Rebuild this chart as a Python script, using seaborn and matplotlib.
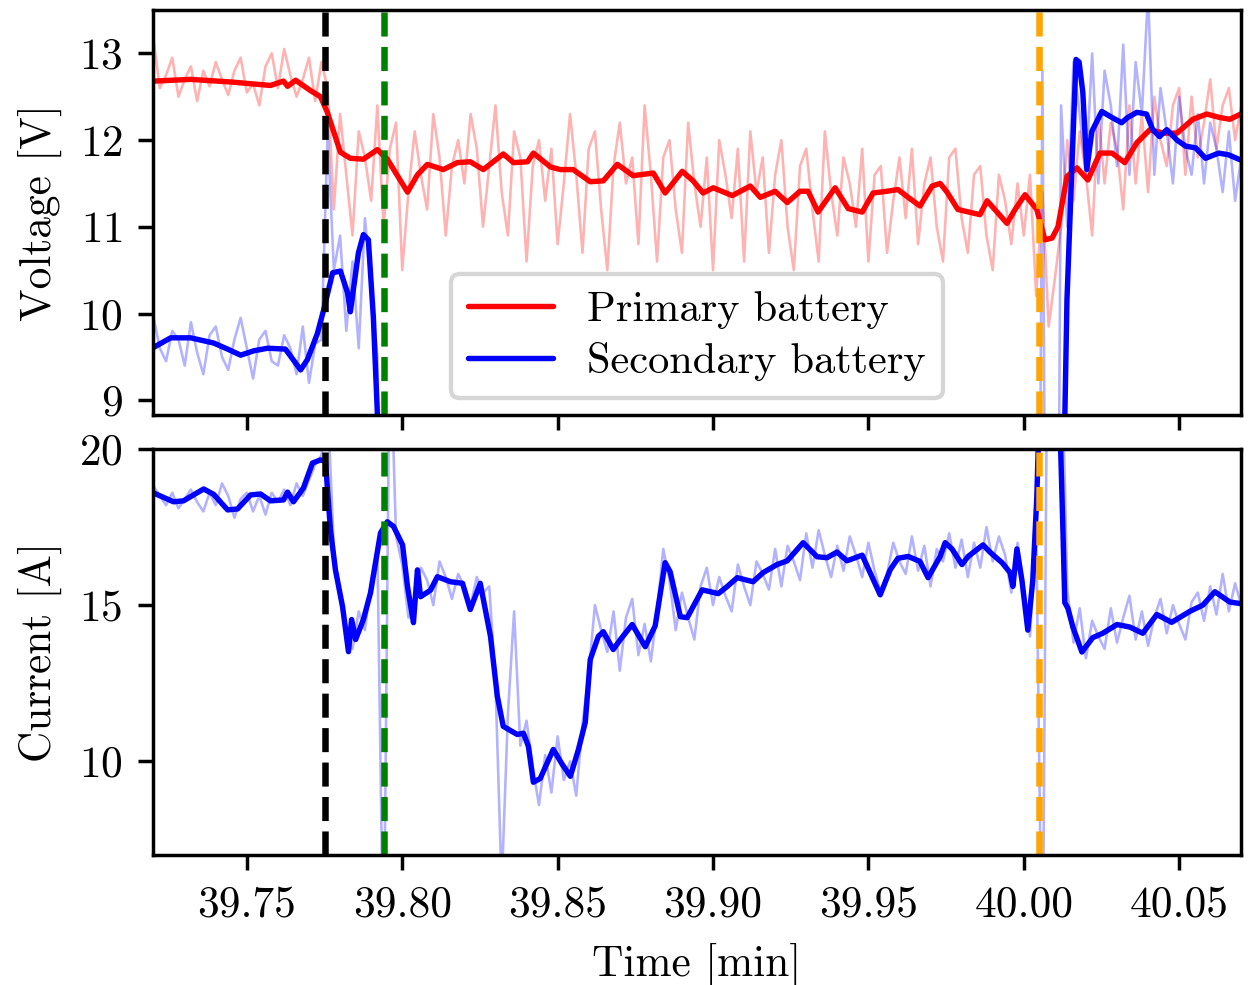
import numpy as np
import matplotlib
matplotlib.use("Agg")
import matplotlib.pyplot as plt
import seaborn as sns

# ---------------- data ----------------
RAW_T0, RAW_DT = 39.720, 0.002   # raw sampling grid [min]

primary_raw = [
    13.15, 12.60, 12.75, 12.95, 12.50, 12.70, 12.85, 12.45, 12.80, 12.62,
    12.90, 12.70, 12.52, 12.80, 12.95, 12.55, 12.65, 12.40, 12.85, 13.00,
    12.60, 13.05, 12.75, 12.50, 12.70, 12.95, 12.45, 12.90, 12.60, 11.20,
    12.30, 11.60, 10.90, 12.10, 11.80, 11.30, 12.40, 11.00, 11.90, 12.20,
    10.50, 11.40, 12.10, 11.60, 11.20, 12.30, 11.80, 10.90, 11.70, 12.00,
    11.50, 12.30, 11.90, 11.00, 11.70, 12.40, 11.40, 10.90, 12.10, 11.80,
    10.60, 11.70, 12.00, 11.30, 11.90, 10.80, 11.50, 12.30, 11.60, 10.70,
    11.90, 12.10, 11.20, 10.50, 11.70, 12.20, 11.50, 11.80, 10.80, 12.40,
    11.60, 10.60, 11.80, 12.00, 11.20, 10.70, 12.20, 11.50, 11.00, 11.80,
    10.50, 12.00, 11.60, 11.10, 11.90, 10.60, 12.10, 11.40, 11.80, 10.70,
    11.60, 12.00, 11.00, 10.50, 11.70, 11.90, 11.20, 10.60, 12.10, 11.40,
    10.90, 11.80, 11.50, 11.00, 11.90, 10.60, 11.60, 11.70, 10.70, 11.30,
    11.80, 11.10, 11.90, 10.80, 11.50, 11.80, 11.00, 10.60, 11.80, 11.90,
    11.10, 10.70, 11.60, 11.70, 10.90, 10.50, 11.60, 11.30, 10.80, 11.50,
    10.90, 11.60, 10.20, 11.40, 9.85, 10.40, 11.00, 12.00, 11.30, 12.10,
    11.60, 10.90, 12.30, 11.50, 12.20, 11.90, 11.20, 12.40, 11.50, 12.30,
    11.40, 12.50, 12.00, 11.70, 12.40, 12.60, 11.60, 12.50, 11.80, 12.20,
    12.70, 11.90, 12.40, 12.60, 12.00, 12.40,
]

# secondary raw: before cut-off (samples 0..37) and after (samples 142..175)
secondary_raw_a = [
    9.95, 9.60, 9.45, 9.80, 9.70, 9.40, 9.90, 9.55, 9.30, 9.75,
    9.85, 9.50, 9.35, 9.70, 9.95, 9.60, 9.25, 9.70, 9.80, 9.45,
    9.40, 9.75, 9.60, 9.30, 9.85, 9.20, 9.65, 9.70, 12.10, 10.50,
    10.90, 9.80, 10.60, 9.60, 11.10, 10.30, 9.50, 0.00,
]
secondary_raw_b = [
    0.00, 12.80, 0.00, 0.00, 12.40, 11.00, 12.90, 12.30, 11.60, 13.00,
    11.50, 12.80, 12.40, 11.70, 13.10, 11.60, 12.90, 12.30, 13.70, 11.60,
    12.60, 12.10, 11.50, 12.50, 11.90, 11.60, 12.30, 11.50, 12.20, 11.90,
    11.40, 12.10, 11.30, 11.80,
]
SEC_B_START = 142

current_raw = [
    18.8, 18.5, 18.2, 18.6, 18.1, 18.4, 18.7, 18.3, 18.0, 18.6,
    18.2, 18.9, 18.5, 17.8, 18.4, 18.6, 18.0, 18.5, 17.9, 18.6,
    18.3, 18.7, 18.2, 18.9, 18.5, 19.0, 19.5, 19.8, 21.5, 16.8,
    15.2, 14.0, 13.6, 14.8, 14.2, 15.8, 16.9, 3.0, 24.0, 17.2,
    16.3, 14.6, 15.2, 16.2, 15.8, 15.0, 16.4, 15.9, 15.2, 16.0,
    15.6, 15.0, 15.9, 15.4, 15.6, 12.5, 6.0, 11.5, 14.8, 10.5,
    11.3, 9.8, 8.6, 10.2, 9.0, 10.8, 9.4, 10.0, 8.9, 11.2,
    12.8, 15.0, 14.2, 13.5, 14.8, 12.9, 14.6, 15.2, 13.4, 14.4,
    13.2, 14.8, 16.8, 15.8, 14.2, 15.4, 14.6, 13.9, 15.6, 16.2,
    15.0, 15.9, 15.3, 14.8, 16.3, 15.6, 15.0, 16.4, 16.0, 15.5,
    16.8, 15.6, 16.9, 16.4, 15.8, 17.3, 16.2, 17.4, 16.6, 15.9,
    16.9, 16.1, 17.2, 16.6, 15.9, 17.0, 16.1, 15.4, 16.0, 17.0,
    16.4, 16.0, 17.2, 16.1, 16.9, 15.6, 16.8, 16.4, 17.3, 16.2,
    17.1, 15.9, 17.0, 16.2, 17.5, 16.4, 17.2, 16.6, 15.4, 17.0,
    15.6, 14.0, 17.5, 2.0, 30.0, 30.0, 24.0, 15.5, 13.8, 14.9,
    13.3, 14.5, 14.0, 13.6, 14.9, 13.8, 14.6, 15.3, 13.9, 14.8,
    13.7, 14.6, 15.2, 14.1, 15.0, 14.4, 13.9, 15.1, 15.4, 14.5,
    15.6, 14.7, 16.0, 14.8, 15.7, 15.0,
]

# smoothed curves (time [min], value)
primary_t = [
    39.7200, 39.7319, 39.7448, 39.7576, 39.7618, 39.7631, 39.7657, 39.7705, 39.7737, 39.7759,
    39.7801, 39.7833, 39.7875, 39.7920, 39.7952, 39.8017, 39.8049, 39.8081, 39.8132, 39.8177,
    39.8219, 39.8261, 39.8325, 39.8358, 39.8403, 39.8422, 39.8477, 39.8509, 39.8550, 39.8605,
    39.8647, 39.8692, 39.8743, 39.8808, 39.8846, 39.8901, 39.8936, 39.8968, 39.9001, 39.9062,
    39.9120, 39.9152, 39.9200, 39.9239, 39.9280, 39.9306, 39.9338, 39.9393, 39.9435, 39.9480,
    39.9515, 39.9560, 39.9595, 39.9628, 39.9666, 39.9705, 39.9731, 39.9753, 39.9788, 39.9859,
    39.9882, 39.9946, 39.9972, 40.0004, 40.0042, 40.0068, 40.0091, 40.0110, 40.0139, 40.0171,
    40.0206, 40.0245, 40.0284, 40.0325, 40.0364, 40.0406, 40.0448, 40.0493, 40.0544, 40.0589,
    40.0631, 40.0663, 40.0698,
]
primary_v = [
    12.68, 12.70, 12.67, 12.63, 12.68, 12.62, 12.69, 12.57, 12.50, 12.32,
    11.86, 11.79, 11.78, 11.89, 11.78, 11.40, 11.60, 11.72, 11.66, 11.74,
    11.75, 11.66, 11.84, 11.74, 11.75, 11.85, 11.69, 11.66, 11.66, 11.52,
    11.53, 11.72, 11.59, 11.62, 11.39, 11.64, 11.53, 11.39, 11.45, 11.36,
    11.47, 11.34, 11.41, 11.28, 11.41, 11.41, 11.17, 11.45, 11.21, 11.17,
    11.39, 11.41, 11.43, 11.34, 11.24, 11.47, 11.50, 11.40, 11.20, 11.14,
    11.30, 11.04, 11.20, 11.37, 11.20, 10.85, 10.87, 11.00, 11.58, 11.68,
    11.54, 11.85, 11.85, 11.74, 11.97, 12.12, 12.08, 12.08, 12.24, 12.30,
    12.26, 12.24, 12.30,
]

secondary_t = [
    39.7200, 39.7255, 39.7319, 39.7393, 39.7438, 39.7480, 39.7522, 39.7567, 39.7624, 39.7673,
    39.7695, 39.7727, 39.7747, 39.7776, 39.7801, 39.7824, 39.7833, 39.7859, 39.7875, 39.7891,
    39.7907, 39.7920, 39.7935, 40.0120, 40.0128, 40.0139, 40.0155, 40.0168, 40.0178, 40.0190,
    40.0203, 40.0219, 40.0251, 40.0284, 40.0315, 40.0334, 40.0364, 40.0395, 40.0415, 40.0437,
    40.0460, 40.0493, 40.0521, 40.0553, 40.0585, 40.0627, 40.0659, 40.0698,
]
secondary_v = [
    9.61, 9.72, 9.72, 9.66, 9.59, 9.52, 9.57, 9.60, 9.59, 9.35,
    9.47, 9.77, 10.04, 10.47, 10.49, 10.24, 10.02, 10.70, 10.91, 10.85,
    9.96, 8.85, 0.00, 0.00, 8.00, 10.16, 11.70, 12.93, 12.90, 12.55,
    11.66, 12.10, 12.33, 12.26, 12.20, 12.26, 12.32, 12.30, 12.12, 12.04,
    12.12, 12.00, 11.93, 11.91, 11.79, 11.85, 11.83, 11.77,
]

current_t = [
    39.7200, 39.7264, 39.7296, 39.7361, 39.7393, 39.7438, 39.7470, 39.7512, 39.7544, 39.7576,
    39.7618, 39.7631, 39.7650, 39.7682, 39.7711, 39.7737, 39.7753, 39.7769, 39.7785, 39.7808,
    39.7827, 39.7837, 39.7850, 39.7875, 39.7898, 39.7930, 39.7952, 39.7972, 39.8001, 39.8017,
    39.8036, 39.8049, 39.8059, 39.8091, 39.8113, 39.8155, 39.8194, 39.8219, 39.8251, 39.8284,
    39.8306, 39.8325, 39.8370, 39.8390, 39.8406, 39.8422, 39.8444, 39.8486, 39.8515, 39.8541,
    39.8567, 39.8589, 39.8605, 39.8631, 39.8647, 39.8679, 39.8702, 39.8740, 39.8782, 39.8814,
    39.8846, 39.8862, 39.8895, 39.8917, 39.8965, 39.9017, 39.9046, 39.9078, 39.9129, 39.9161,
    39.9206, 39.9239, 39.9290, 39.9335, 39.9367, 39.9399, 39.9431, 39.9480, 39.9512, 39.9538,
    39.9570, 39.9595, 39.9628, 39.9666, 39.9692, 39.9731, 39.9747, 39.9769, 39.9801, 39.9821,
    39.9869, 39.9891, 39.9930, 39.9956, 39.9965, 39.9978, 39.9994, 40.0013, 40.0029, 40.0042,
    40.0052, 40.0084, 40.0113, 40.0126, 40.0132, 40.0142, 40.0158, 40.0187, 40.0222, 40.0254,
    40.0300, 40.0341, 40.0383, 40.0428, 40.0476, 40.0534, 40.0576, 40.0615, 40.0663, 40.0698,
]
current_v = [
    18.59, 18.31, 18.34, 18.72, 18.55, 18.05, 18.08, 18.53, 18.56, 18.34,
    18.37, 18.62, 18.31, 18.75, 19.55, 19.65, 19.60, 17.41, 16.13, 14.95,
    13.51, 14.54, 13.90, 14.54, 15.40, 17.31, 17.67, 17.52, 16.93, 15.59,
    14.44, 16.13, 15.27, 15.48, 15.91, 15.75, 15.70, 14.86, 15.70, 14.00,
    12.08, 11.12, 10.86, 10.90, 10.48, 9.33, 9.45, 10.38, 9.90, 9.52,
    10.38, 11.25, 13.26, 14.00, 14.15, 13.58, 13.90, 14.38, 13.67, 14.34,
    16.36, 16.07, 14.63, 14.60, 15.49, 15.37, 15.60, 15.88, 15.75, 16.04,
    16.30, 16.42, 17.00, 16.55, 16.52, 16.70, 16.42, 16.60, 15.90, 15.33,
    16.13, 16.50, 16.56, 16.40, 15.88, 16.56, 17.00, 16.80, 16.30, 16.56,
    16.93, 16.70, 16.36, 16.04, 15.60, 16.80, 15.80, 14.20, 15.80, 18.47,
    22.00, 30.00, 22.00, 17.40, 15.08, 14.90, 14.30, 13.50, 13.96, 14.10,
    14.38, 14.30, 14.10, 14.70, 14.45, 14.80, 15.00, 15.43, 15.10, 15.05,
]

event_times = [39.775, 39.794, 40.005]
event_colors = ["black", "green", "orange"]

x_ticks = [39.75, 39.80, 39.85, 39.90, 39.95, 40.00, 40.05]
v_ticks = [9, 10, 11, 12, 13]
i_ticks = [10, 15, 20]

# ---------------- derived ----------------
t_raw = np.round(RAW_T0 + RAW_DT * np.arange(len(primary_raw)), 4)
t_sec_raw = np.concatenate([t_raw[:len(secondary_raw_a)],
                            t_raw[SEC_B_START:SEC_B_START + len(secondary_raw_b)]])
sec_raw = np.array(secondary_raw_a + secondary_raw_b)
assert len(primary_t) == len(primary_v)
assert len(secondary_t) == len(secondary_v)
assert len(current_t) == len(current_v)
assert len(current_raw) == len(primary_raw)

# ---------------- style ----------------
sns.set_style("ticks")
plt.rcParams.update({
    "font.family": ["serif"],
    "font.serif": ["cmr10"],
    "mathtext.fontset": "cm",
    "axes.formatter.use_mathtext": True,
    "axes.unicode_minus": False,
    "font.size": 10,
    "axes.edgecolor": "black",
    "axes.labelcolor": "black",
    "xtick.color": "black",
    "ytick.color": "black",
    "text.color": "black",
    "axes.linewidth": 0.8,
    "xtick.major.width": 0.8,
    "ytick.major.width": 0.8,
    "xtick.major.size": 3.5,
    "ytick.major.size": 3.5,
    "xtick.labelsize": 10,
    "ytick.labelsize": 10,
    "axes.labelsize": 10,
})

W, H, DPI = 1248, 985, 312
fig = plt.figure(figsize=(W / DPI, H / DPI), dpi=DPI)
ax1 = fig.add_axes([153 / W, 1 - 415 / H, 1088 / W, 405 / H])
ax2 = fig.add_axes([153 / W, 1 - 855 / H, 1088 / W, 406 / H], sharex=ax1)

RAW_LW, SM_LW = 0.6, 1.25

# voltage panel
sns.lineplot(x=t_raw, y=primary_raw, ax=ax1, color="red", alpha=0.3, lw=RAW_LW)
sns.lineplot(x=t_sec_raw, y=sec_raw, ax=ax1, color="blue", alpha=0.3, lw=RAW_LW)
sns.lineplot(x=primary_t, y=primary_v, ax=ax1, color="red", lw=SM_LW, label="Primary battery")
sns.lineplot(x=secondary_t, y=secondary_v, ax=ax1, color="blue", lw=SM_LW, label="Secondary battery")

# current panel
sns.lineplot(x=t_raw, y=current_raw, ax=ax2, color="blue", alpha=0.3, lw=RAW_LW)
sns.lineplot(x=current_t, y=current_v, ax=ax2, color="blue", lw=SM_LW)

for ax in (ax1, ax2):
    for et, ec in zip(event_times, event_colors):
        ax.axvline(et, color=ec, ls="--", lw=1.5)

ax1.set_xlim(39.7198, 40.0699)
ax1.set_ylim(8.83, 13.5)
ax1.set_yticks(v_ticks)
ax2.set_ylim(7.0, 20.0)
ax2.set_yticks(i_ticks)
ax2.set_xticks(x_ticks)
ax2.set_xticklabels([f"{v:.2f}" for v in x_ticks])
ax1.tick_params(labelbottom=False)

ax1.set_ylabel("Voltage [V]")
ax2.set_ylabel("Current [A]")
ax1.set_xlabel("")
ax2.set_xlabel("Time [min]")
fig.align_ylabels([ax1, ax2])

ax1.legend(loc="lower center", fontsize=9.8, labelspacing=0.3,
           borderaxespad=0.4, handlelength=2.0)

fig.savefig("out.png", dpi=DPI)
